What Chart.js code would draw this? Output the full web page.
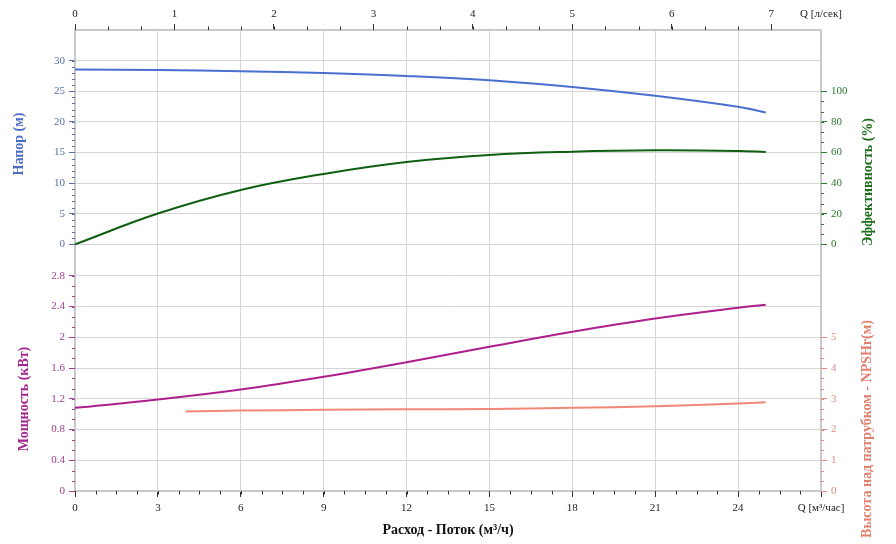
<!DOCTYPE html>
<html><head><meta charset="utf-8">
<script src="https://cdn.jsdelivr.net/npm/chart.js@4.4.1/dist/chart.umd.min.js"></script>
<style>html,body{margin:0;padding:0;background:#fff}#wrap{width:896px;height:544px}</style>
</head><body><div id="wrap"><canvas id="c" width="896" height="544"></canvas></div>
<script>
// ---- data ----
const flowQ = [0, 3, 6, 9, 12, 15, 18, 21, 24, 25];
const headM = [28.54, 28.45, 28.28, 27.97, 27.5, 26.8, 25.7, 24.25, 22.45, 21.52];
const efficiencyPct = [0, 20.1, 35.5, 46, 53.8, 58.4, 60.5, 61.4, 61, 60.3];
const powerKW = [1.082, 1.19, 1.32, 1.486, 1.677, 1.877, 2.073, 2.246, 2.386, 2.425];
const npshQ = [4, 6, 9, 12, 15, 18, 21, 24, 25];
const npshM = [2.585, 2.617, 2.64, 2.66, 2.67, 2.705, 2.76, 2.845, 2.89];
const headTicks = [0, 5, 10, 15, 20, 25, 30];
const effTicks = [0, 20, 40, 60, 80, 100];
const powerTicks = [0, 0.4, 0.8, 1.2, 1.6, 2, 2.4, 2.8];
const npshTicks = [0, 1, 2, 3, 4, 5];
const flowM3hTicks = [0, 3, 6, 9, 12, 15, 18, 21, 24, 27];
const flowLsTicks = [0, 1, 2, 3, 4, 5, 6, 7, 7.5];
const flowM3hUnit = 'Q [м³/час]';
const flowLsUnit = 'Q [л/сек]';
const titleHead = 'Напор (м)';
const titlePower = 'Мощность (кВт)';
const titleEff = 'Эффективность (%)';
const titleNpsh = 'Высота над патрубком - NPSHr(м)';
const titleFlow = 'Расход - Поток (м³/ч)';

// ---- styles ----
const C_HEAD = '#4a6fd0', C_HEAD_T = '#5a6ea8', C_HEAD_TITLE = '#4b6cc4';
const C_EFF = '#0f5f12', C_EFF_T = '#2f7a30', C_EFF_TITLE = '#1e6e1e';
const C_POW = '#ad1f8c', C_POW_T = '#a2408f', C_POW_TITLE = '#a3268f';
const C_NPSH = '#f0887a', C_NPSH_T = '#e58b80', C_NPSH_TITLE = '#e2806f';
const GRID = '#d6d6d6', BORDER = '#c9c9c9';
const FONT = 'Liberation Serif';

const pts = (xs, ys) => xs.map((x, i) => ({x, y: ys[i]}));
const fixTicks = arr => s => { s.ticks = arr.map(v => ({value: v})); };
const fmt = v => String(+(+v).toFixed(2));

function yAxis(opts) {
  return Object.assign({
    type: 'linear',
    grid: {color: GRID, tickLength: 6, tickColor: opts.tc, lineWidth: 1},
    border: {color: BORDER, width: 2},
    ticks: {color: opts.tc, font: {family: FONT, size: 11}, padding: 4, callback: fmt},
  }, opts.extra);
}

const minorDefs = [
  {id: 'x', from: 0, to: 27, step: 0.75, side: 'bottom', color: '#333'},
  {id: 'x2', from: 0, to: 7, step: 1 / 3, side: 'top', color: '#333'},
  {id: 'yHead', from: 0, to: 30, step: 1, side: 'left', color: C_HEAD_T},
  {id: 'yPower', from: 0, to: 2.8, step: 0.4 / 3, side: 'left', color: C_POW_T},
  {id: 'yEff', from: 0, to: 100, step: 20 / 3, side: 'right', color: C_EFF_T},
  {id: 'yNpsh', from: 0, to: 5, step: 1 / 3, side: 'right', color: C_NPSH_T},
];

const minorPlugin = {
  id: 'minorTicks',
  afterDraw(chart) {
    const ctx = chart.ctx, a = chart.chartArea;
    ctx.save();
    ctx.lineWidth = 1;
    for (const d of minorDefs) {
      const s = chart.scales[d.id];
      ctx.strokeStyle = d.color;
      const n = Math.round((d.to - d.from) / d.step);
      for (let i = 0; i <= n; i++) {
        const v = d.from + i * d.step;
        const p = Math.round(s.getPixelForValue(v)) + 0.5;
        ctx.beginPath();
        if (d.side === 'bottom') { ctx.moveTo(p, a.bottom); ctx.lineTo(p, a.bottom + 3.5); }
        else if (d.side === 'top') { ctx.moveTo(p, a.top); ctx.lineTo(p, a.top - 3.5); }
        else if (d.side === 'left') { ctx.moveTo(a.left - 3, p); ctx.lineTo(a.left, p); }
        else { ctx.moveTo(a.right, p); ctx.lineTo(a.right + 3, p); }
        ctx.stroke();
      }
    }
    ctx.restore();
  }
};

const titlePlugin = {
  id: 'axisTitles',
  afterDraw(chart) {
    const ctx = chart.ctx;
    ctx.save();
    ctx.font = 'bold 14px "' + FONT + '"';
    ctx.textAlign = 'center';
    ctx.textBaseline = 'middle';
    const rot = (t, x, y, c) => {
      ctx.save(); ctx.translate(x, y); ctx.rotate(-Math.PI / 2);
      ctx.fillStyle = c; ctx.fillText(t, 0, 0); ctx.restore();
    };
    rot(titleHead, 19, 144, C_HEAD_TITLE);
    rot(titlePower, 24, 399, C_POW_TITLE);
    rot(titleEff, 868, 182, C_EFF_TITLE);
    rot(titleNpsh, 867, 429, C_NPSH_TITLE);
    ctx.fillStyle = '#111';
    ctx.fillText(titleFlow, 448, 530);
    ctx.restore();
  }
};

const lineDs = (label, data, color, axis) => ({
  label, data, borderColor: color, backgroundColor: color, borderWidth: 2,
  pointRadius: 0, tension: 0.4, yAxisID: axis, xAxisID: 'x', fill: false
});

new Chart(document.getElementById('c'), {
  type: 'line',
  data: {
    datasets: [
      lineDs(titleHead, pts(flowQ, headM), C_HEAD, 'yHead'),
      lineDs(titleEff, pts(flowQ, efficiencyPct), C_EFF, 'yEff'),
      lineDs(titlePower, pts(flowQ, powerKW), C_POW, 'yPower'),
      lineDs(titleNpsh, pts(npshQ, npshM), C_NPSH, 'yNpsh'),
    ]
  },
  options: {
    responsive: false, animation: false, devicePixelRatio: 1,
    layout: {padding: 0},
    plugins: {legend: {display: false}, tooltip: {enabled: false}},
    scales: {
      x: {
        type: 'linear', position: 'bottom', min: 0, max: 27,
        afterBuildTicks: fixTicks(flowM3hTicks),
        afterFit: s => { s.height = 53; },
        grid: {color: GRID, tickLength: 6, tickColor: '#333'},
        border: {color: BORDER, width: 2},
        ticks: {color: '#222', font: {family: FONT, size: 11}, padding: 5, maxRotation: 0,
          callback: v => v === 27 ? flowM3hUnit : fmt(v)}
      },
      x2: {
        type: 'linear', position: 'top', min: 0, max: 7.5,
        afterBuildTicks: fixTicks(flowLsTicks),
        afterFit: s => { s.height = 30; },
        grid: {drawOnChartArea: false, tickLength: 6,
          tickColor: c => (c.tick && c.tick.value === 7.5) ? 'rgba(0,0,0,0)' : '#333'},
        border: {color: BORDER, width: 2},
        ticks: {color: '#222', font: {family: FONT, size: 11}, padding: 3, maxRotation: 0,
          callback: v => v === 7.5 ? flowLsUnit : fmt(v)}
      },
      yHead: yAxis({tc: C_HEAD_T, extra: {position: 'left', stack: 'L', stackWeight: 1, weight: 1,
        min: -2.64, max: 35, afterBuildTicks: fixTicks(headTicks), afterFit: s => { s.width = 75; }}}),
      yPower: yAxis({tc: C_POW_T, extra: {position: 'left', stack: 'L', stackWeight: 1, weight: 0,
        min: 0, max: 3, afterBuildTicks: fixTicks(powerTicks), afterFit: s => { s.width = 75; }}}),
      yEff: yAxis({tc: C_EFF_T, extra: {position: 'right', stack: 'R', stackWeight: 1, weight: 0,
        min: -10.56, max: 140, afterBuildTicks: fixTicks(effTicks), afterFit: s => { s.width = 75; }}}),
      yNpsh: yAxis({tc: C_NPSH_T, extra: {position: 'right', stack: 'R', stackWeight: 1, weight: 1,
        min: 0, max: 7.5, afterBuildTicks: fixTicks(npshTicks), afterFit: s => { s.width = 75; }}}),
    }
  },
  plugins: [minorPlugin, titlePlugin]
});
</script>
</body></html>
